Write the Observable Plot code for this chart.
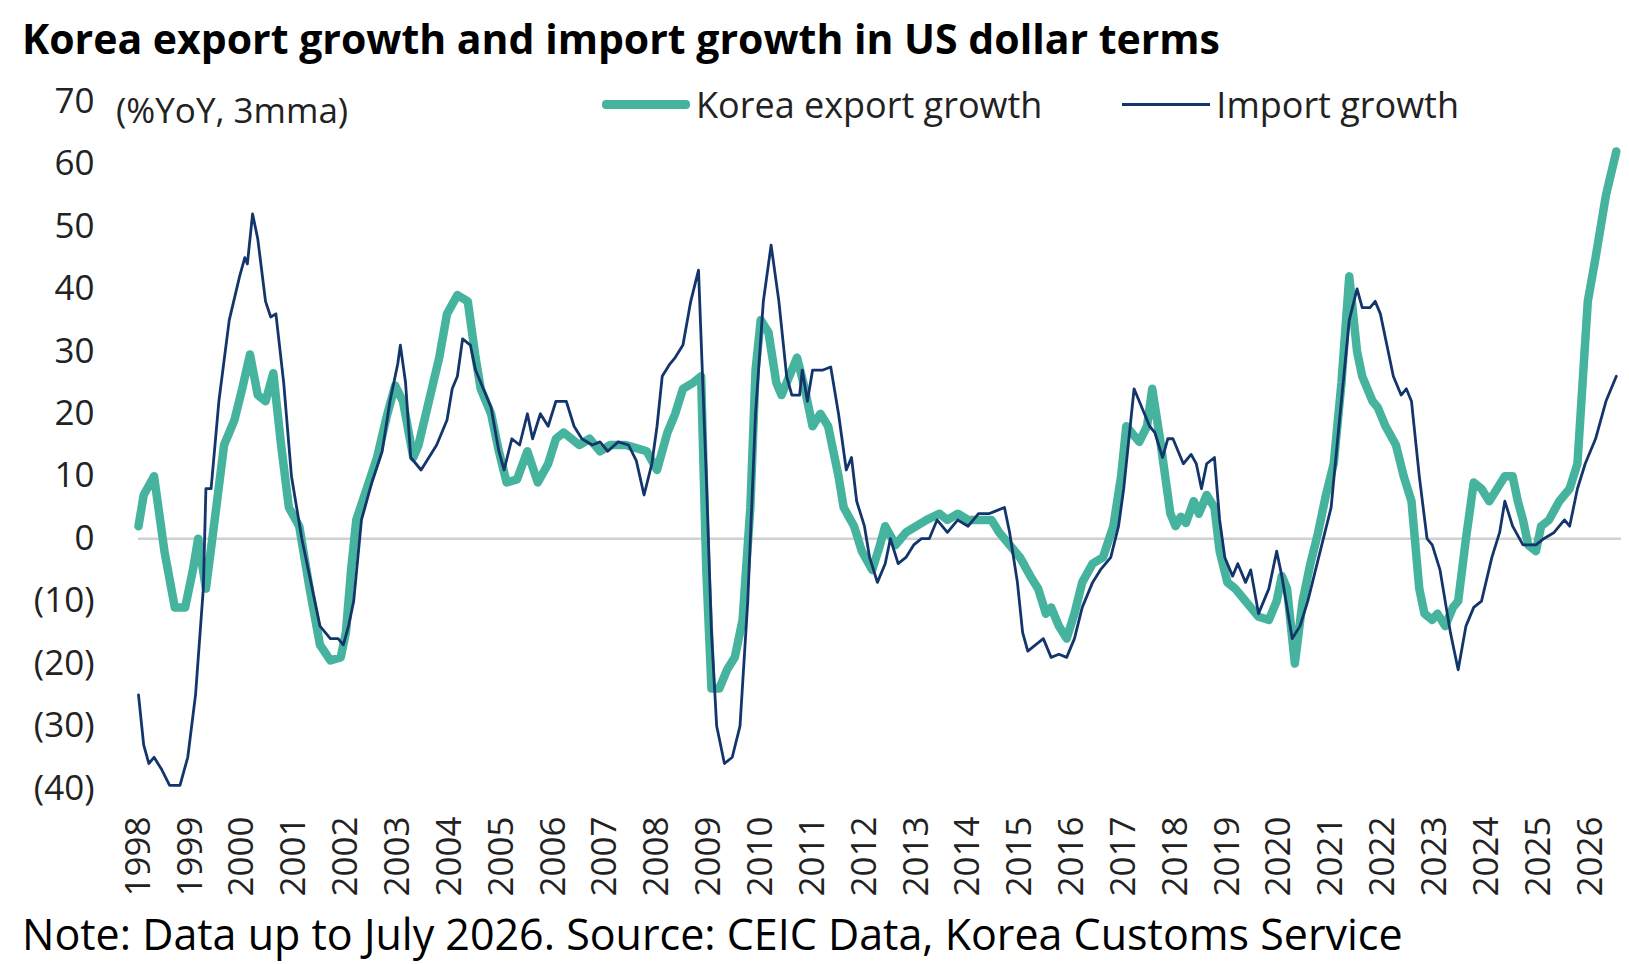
<!DOCTYPE html>
<html><head><meta charset="utf-8">
<script src="https://cdn.jsdelivr.net/npm/d3@7"></script>
<script src="https://cdn.jsdelivr.net/npm/@observablehq/plot@0.6"></script>
<style>
body{margin:0;background:#fff;font-family:"Open Sans",sans-serif;}
#wrap{position:relative;width:1629px;overflow:hidden;}
#title{position:absolute;left:22px;top:10px;font-size:41px;font-weight:bold;color:#000;white-space:nowrap;}
#unit{position:absolute;left:116px;top:86px;font-size:35px;color:#222;}
#legend{position:absolute;left:602px;top:80px;font-size:36px;color:#222;display:flex;align-items:center;white-space:nowrap;}
#legend span.sw{display:inline-block;width:88px;margin-right:6px;}
#chart{position:absolute;left:0;top:65px;}
#note{position:absolute;left:22px;top:904px;font-size:43px;color:#000;white-space:nowrap;}
</style></head>
<body><div id="wrap" style="height:964px">
<div id="title">Korea export growth and import growth in US dollar terms</div>
<div id="chart"></div>
<div id="unit">(%YoY, 3mma)</div>
<div id="legend"><span class="sw" style="height:9px;background:#45b39d;border-radius:4px"></span>Korea export growth<span style="width:80px"></span><span class="sw" style="height:3px;background:#14356b"></span>Import growth</div>
<div id="note">Note: Data up to July 2026. Source: CEIC Data, Korea Customs Service</div>
</div>
<script>
const exportT=[1998.0,1998.1,1998.3,1998.5,1998.7,1998.9,1999.05,1999.15,1999.3,1999.5,1999.65,1999.85,2000.0,2000.15,2000.3,2000.45,2000.6,2000.75,2000.9,2001.1,2001.3,2001.5,2001.7,2001.9,2002.0,2002.1,2002.2,2002.4,2002.6,2002.8,2002.95,2003.1,2003.3,2003.4,2003.6,2003.8,2003.95,2004.15,2004.35,2004.5,2004.6,2004.8,2004.95,2005.1,2005.3,2005.5,2005.7,2005.9,2006.05,2006.2,2006.5,2006.7,2006.9,2007.1,2007.4,2007.6,2007.8,2008.0,2008.2,2008.35,2008.5,2008.7,2008.85,2008.95,2009.05,2009.2,2009.35,2009.5,2009.65,2009.8,2009.9,2010.0,2010.15,2010.3,2010.4,2010.6,2010.7,2010.85,2011.0,2011.15,2011.3,2011.5,2011.6,2011.8,2011.95,2012.15,2012.3,2012.4,2012.6,2012.8,2013.0,2013.2,2013.45,2013.6,2013.8,2014.0,2014.2,2014.45,2014.6,2014.8,2015.0,2015.2,2015.35,2015.5,2015.6,2015.75,2015.9,2016.05,2016.2,2016.4,2016.6,2016.8,2016.95,2017.05,2017.15,2017.3,2017.45,2017.55,2017.7,2017.8,2017.9,2018.0,2018.1,2018.2,2018.35,2018.45,2018.6,2018.75,2018.85,2019.0,2019.15,2019.3,2019.45,2019.6,2019.8,2019.95,2020.05,2020.15,2020.3,2020.45,2020.6,2020.75,2020.9,2021.05,2021.2,2021.35,2021.5,2021.6,2021.8,2021.9,2022.05,2022.25,2022.4,2022.55,2022.7,2022.8,2022.95,2023.05,2023.2,2023.35,2023.45,2023.6,2023.75,2023.9,2024.05,2024.2,2024.35,2024.5,2024.6,2024.7,2024.8,2024.95,2025.05,2025.2,2025.4,2025.6,2025.75,2025.85,2025.95,2026.1,2026.3,2026.5];
const exportV=[2,7,10,-2,-11,-11,-5,0,-8,5,15,19,24,29.5,23,22,26.5,15,5,2,-8,-17,-19.5,-19,-15,-5,3,8,13,20,24.5,22,13,15,22,29,36,39,38,29,24,20,14,9,9.5,14,9,12,16,17,15,16,14,15,15,14.5,14,11,17,20,24,25,26,-5,-24,-24,-21,-19,-13,5,27,35,33,25,23,27,29,24,18,20,18,10,5,2,-2,-5,-1,2,-1,1,2,3,4,3,4,3,3,3,1,-1,-3,-6,-8,-12,-11,-14,-16,-12,-7,-4,-3,2,10,18,17,15.5,18,24,16,10,4,2,3.5,2.5,6,4,7,5,-2,-7,-8,-9.5,-11,-12.5,-13,-10,-6,-8,-20,-10,-4,1,7,12,25,42,30,26,22,21,18,15,10,6,-8,-12,-13,-12,-14,-11,-10,0,9,8,6,8,10,10,6,3,-1,-2,2,3,6,8,12,25,38,45,55,62];
const importT=[1998.0,1998.1,1998.2,1998.3,1998.45,1998.6,1998.8,1998.95,1999.1,1999.25,1999.3,1999.4,1999.55,1999.75,1999.95,2000.05,2000.1,2000.2,2000.3,2000.45,2000.55,2000.65,2000.8,2000.95,2001.15,2001.3,2001.5,2001.7,2001.85,2001.95,2002.05,2002.15,2002.3,2002.5,2002.7,2002.85,2003.0,2003.05,2003.15,2003.25,2003.45,2003.6,2003.75,2003.95,2004.05,2004.15,2004.25,2004.4,2004.5,2004.65,2004.8,2004.95,2005.05,2005.2,2005.35,2005.5,2005.6,2005.75,2005.9,2006.05,2006.25,2006.4,2006.55,2006.75,2006.9,2007.05,2007.25,2007.45,2007.6,2007.75,2007.9,2008.0,2008.1,2008.25,2008.35,2008.5,2008.65,2008.8,2008.95,2009.05,2009.15,2009.3,2009.45,2009.6,2009.75,2009.9,2010.05,2010.2,2010.35,2010.5,2010.6,2010.75,2010.8,2010.9,2011.0,2011.2,2011.35,2011.5,2011.65,2011.75,2011.85,2012.0,2012.1,2012.25,2012.4,2012.5,2012.65,2012.8,2012.95,2013.1,2013.25,2013.4,2013.6,2013.8,2014.0,2014.2,2014.4,2014.55,2014.7,2014.8,2014.95,2015.05,2015.15,2015.3,2015.45,2015.6,2015.75,2015.9,2016.05,2016.2,2016.4,2016.55,2016.75,2016.9,2017.0,2017.1,2017.2,2017.35,2017.5,2017.6,2017.75,2017.85,2017.95,2018.05,2018.15,2018.3,2018.4,2018.5,2018.6,2018.75,2018.85,2018.95,2019.1,2019.2,2019.35,2019.45,2019.6,2019.8,2019.95,2020.05,2020.25,2020.4,2020.55,2020.7,2020.85,2021.0,2021.15,2021.35,2021.5,2021.6,2021.75,2021.85,2021.95,2022.1,2022.2,2022.35,2022.45,2022.55,2022.7,2022.85,2022.95,2023.1,2023.3,2023.45,2023.6,2023.75,2023.9,2024.1,2024.25,2024.35,2024.5,2024.7,2024.8,2024.95,2025.1,2025.3,2025.5,2025.6,2025.75,2025.9,2026.1,2026.3,2026.5];
const importV=[-25,-33,-36,-35,-37,-39.5,-39.5,-35,-25,-8,8,8,22,35,42,45,44,52,48,38,35.5,36,25,10,0,-6,-14,-16,-16,-17,-14,-10,3,9,14,22,28,31,25,13,11,13,15,19,24,26,32,31,27,24,21,14,11,16,15,20,16,20,18,22,22,18,16,15,15.5,14,15.5,15,12.5,7,12,18,26,28,29,31,38,43,10,-15,-30,-36,-35,-30,-10,20,38,47,38,26,23,23,27,22,27,27,27.5,20,11,13,6,2,-3,-7,-4,0,-4,-3,-1,0,0,3,1,3,2,4,4,4.5,5,1,-7,-15,-18,-17,-16,-19,-18.5,-19,-16,-11,-7,-5,-3,2,8,16,24,21,18,17,13,16,16,14,12,13.5,12,8,12,13,3,-3,-6,-4,-7,-5,-12,-8,-2,-6,-16,-14,-10,-5,0,5,18,35,40,37,37,38,36,30,26,23,24,22,10,0,-1,-5,-15,-21,-14,-11,-10,-3,1,6,2,-1,-1,-1,0,1,3,2,8,12,16,22,26];
const yearTicks=d3.range(1998,2027);
const yTicks=[-40,-30,-20,-10,0,10,20,30,40,50,60,70];

const exportData=exportT.map((t,i)=>({t,v:exportV[i]}));
const importData=importT.map((t,i)=>({t,v:importV[i]}));
const fmt=v=>v<0?`(${-v})`:`${v}`;
const chart=Plot.plot({
  width:1629,height:845,
  marginLeft:138,marginRight:8,marginTop:36,marginBottom:122,
  style:{fontFamily:"Open Sans",fontSize:"35px",color:"#222",background:"transparent",overflow:"visible"},
  x:{domain:[1998,2026.6],ticks:yearTicks,tickFormat:d=>String(d),tickRotate:-90,tickSize:0,tickPadding:28,label:null},
  y:{domain:[-40,70],ticks:yTicks,tickFormat:fmt,tickSize:0,tickPadding:44,label:null},
  marks:[
    Plot.ruleY([0],{stroke:"#d0d0d0",strokeWidth:2.5}),
    Plot.line(exportData,{x:"t",y:"v",stroke:"#45b39d",strokeWidth:8.5}),
    Plot.line(importData,{x:"t",y:"v",stroke:"#14356b",strokeWidth:2.8})
  ]
});
document.getElementById("chart").appendChild(chart);
</script></body></html>
